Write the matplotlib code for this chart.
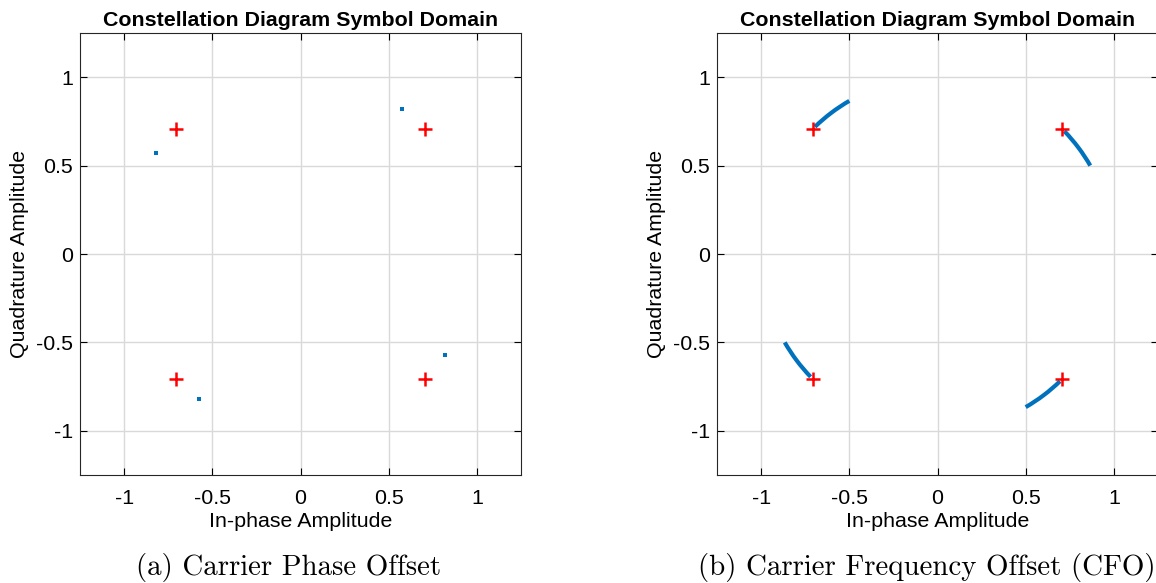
import matplotlib.pyplot as plt
from matplotlib.patches import Arc

# Ideal QPSK reference symbols
ref_i = [0.7071, -0.7071, -0.7071, 0.7071]
ref_q = [0.7071, 0.7071, -0.7071, -0.7071]

# (a) received symbols with a fixed phase offset
rx_i = [0.574, -0.819, -0.574, 0.819]
rx_q = [0.819, 0.574, -0.819, -0.574]

# (b) CFO: each symbol drifts along the unit circle, start/end angle in degrees
arc_start = [30, 120, 210, 300]
arc_end = [44, 134, 224, 314]

ticks = [-1, -0.5, 0, 0.5, 1]
tick_labels = ['-1', '-0.5', '0', '0.5', '1']
captions = ['(a) Carrier Phase Offset', '(b) Carrier Frequency Offset (CFO)']

plt.rcParams['font.family'] = ['Liberation Sans', 'DejaVu Sans']

fig = plt.figure(figsize=(11.56, 5.83), dpi=100)
W, H = 1156, 583
ax1 = fig.add_axes([80 / W, 108 / H, 441 / W, 442 / H])
ax2 = fig.add_axes([717 / W, 108 / H, 441 / W, 442 / H])

blue = '#0072bd'
fs = 15.4

# caption centres in pixels (slightly left of the axes centres)
cap_x = [289, 927]

for ax, cap, cx in zip([ax1, ax2], captions, cap_x):
    ax.set_xlim(-1.25, 1.25)
    ax.set_ylim(-1.25, 1.25)
    ax.set_xticks(ticks)
    ax.set_yticks(ticks)
    ax.set_xticklabels(tick_labels)
    ax.set_yticklabels(tick_labels)
    ax.tick_params(direction='in', top=True, right=True, labelsize=fs,
                   length=5, width=0.8)
    ax.tick_params(axis='x', pad=10)
    ax.tick_params(axis='y', pad=5)
    ax.grid(True, color='#d9d9d9', linewidth=1)
    ax.set_axisbelow(True)
    for s in ax.spines.values():
        s.set_color('#262626')
        s.set_linewidth(0.8)
    ax.set_title('Constellation Diagram Symbol Domain', fontsize=fs,
                 fontweight='bold', pad=5)
    ax.set_xlabel('In-phase Amplitude', fontsize=fs, labelpad=3)
    ax.set_ylabel('Quadrature Amplitude', fontsize=fs, labelpad=5)
    fig.text(cx / W, 1 - 568 / H, cap, ha='center', va='center',
             fontsize=20.8, family='cmr10')

# (a) phase offset
ax1.scatter(rx_i, rx_q, s=12, marker='s', color=blue, linewidths=0, zorder=3)
ax1.scatter(ref_i, ref_q, s=110, marker='+', color='red', linewidths=1.8, zorder=4)

# (b) frequency offset
for a0, a1 in zip(arc_start, arc_end):
    ax2.add_patch(Arc((0, 0), 2, 2, theta1=a0, theta2=a1, color=blue,
                      linewidth=3, zorder=3))
ax2.scatter(ref_i, ref_q, s=110, marker='+', color='red', linewidths=1.8, zorder=4)

fig.savefig('out.png', dpi=100)
